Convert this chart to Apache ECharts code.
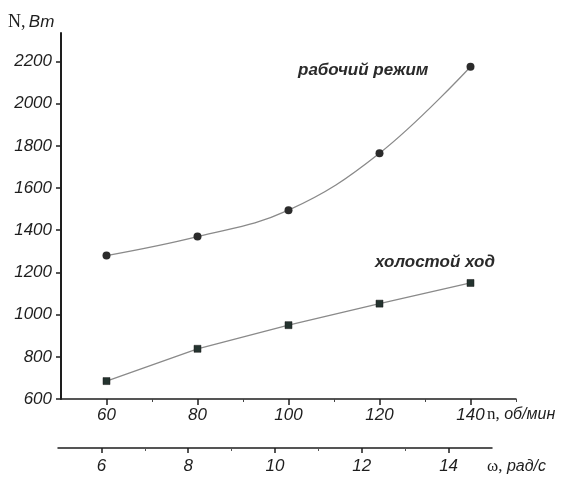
<!DOCTYPE html>
<html>
<head>
<meta charset="UTF-8">
<title>N(n)</title>
<script type="text/javascript" src="https://cdn.jsdelivr.net/npm/echarts@6/dist/echarts.min.js"></script>
</head>
<body style="margin:0;background:#fff;">
	<div id="box" style="width: 565px; height: 477px;"></div>

	<script type="text/javascript">
		// частота вращения, об/мин
		var speeds = [60, 80, 100, 120, 140];
		// мощность, Вт
		var working = [1280, 1370, 1495, 1765, 2175];
		var idle = [685, 838, 950, 1052, 1150];
		// подписи осей
		var yTicks = [600, 800, 1000, 1200, 1400, 1600, 1800, 2000, 2200];
		var nTicks = [60, 80, 100, 120, 140];
		var nMinor = [70, 90, 110, 130, 150];
		var wTicks = [6, 8, 10, 12, 14];
		var wMinor = [7, 9, 11, 13];

		var ink = '#1e1e1e';
		var lbl = {
			color : ink,
			fontFamily : 'Liberation Sans',
			fontStyle : 'italic',
			fontSize : 17,
			formatter : function(v) { return String(v); }
		};

		function pairs(xs, ys) {
			var out = [];
			for (var i = 0; i < xs.length; i++) {
				out.push([ xs[i], ys[i] ]);
			}
			return out;
		}

		var myChart = echarts.init(document.getElementById('box'));
		myChart.setOption({
			animation : false,
			backgroundColor : '#fff',
			grid : [ {
				left : 61,
				right : 49,
				top : 33,
				bottom : 78
			}, {
				left : 58,
				right : 73,
				top : 447,
				height : 1
			} ],
			xAxis : [ {
				gridIndex : 0,
				type : 'value',
				position : 'bottom',
				min : 50,
				max : 150,
				interval : 10,
				axisLine : { lineStyle : { color : ink, width : 1.5 } },
				axisTick : { customValues : nTicks, length : 6, lineStyle : { color : ink, width : 1.5 } },
				axisLabel : Object.assign({ customValues : nTicks, margin : 8 }, lbl),
				splitLine : { show : false }
			}, {
				gridIndex : 0,
				type : 'value',
				position : 'bottom',
				min : 50,
				max : 150,
				interval : 10,
				axisLine : { show : false },
				axisTick : { customValues : nMinor, length : 3, lineStyle : { color : '#444' } },
				axisLabel : { show : false },
				splitLine : { show : false }
			}, {
				gridIndex : 1,
				type : 'value',
				position : 'bottom',
				min : 5,
				max : 15,
				interval : 1,
				axisLine : { lineStyle : { color : ink, width : 1.5 } },
				axisTick : { customValues : wTicks, length : 5, lineStyle : { color : ink, width : 1.5 } },
				axisLabel : Object.assign({ customValues : wTicks, margin : 10 }, lbl),
				splitLine : { show : false }
			}, {
				gridIndex : 1,
				type : 'value',
				position : 'bottom',
				min : 5,
				max : 15,
				interval : 1,
				axisLine : { show : false },
				axisTick : { customValues : wMinor, length : 3, lineStyle : { color : '#555' } },
				axisLabel : { show : false },
				splitLine : { show : false }
			} ],
			yAxis : [ {
				gridIndex : 0,
				type : 'value',
				min : 600,
				max : 2335,
				interval : 200,
				axisLine : { show : true, lineStyle : { color : ink, width : 2 } },
				axisTick : { show : true, customValues : yTicks, length : 5, lineStyle : { color : ink, width : 1.5 } },
				axisLabel : Object.assign({ customValues : yTicks, margin : 9 }, lbl),
				splitLine : { show : false }
			}, {
				gridIndex : 1,
				type : 'value',
				show : false
			} ],
			series : [ {
				name : 'рабочий режим',
				type : 'line',
				xAxisIndex : 0,
				yAxisIndex : 0,
				smooth : 0.4,
				symbol : 'circle',
				symbolSize : 8,
				itemStyle : { color : '#2b2b2b' },
				lineStyle : { color : '#8a8a8a', width : 1.3 },
				data : pairs(speeds, working)
			}, {
				name : 'холостой ход',
				type : 'line',
				xAxisIndex : 0,
				yAxisIndex : 0,
				symbol : 'rect',
				symbolSize : 7,
				itemStyle : { color : '#24332f', borderColor : '#1a1a1a', borderWidth : 0.5 },
				lineStyle : { color : '#8a8a8a', width : 1.3 },
				data : pairs(speeds, idle)
			} ],
			graphic : [ {
				type : 'text',
				left : 8,
				top : 13,
				style : {
					text : '{a|N,} {b|Вт}',
					rich : {
						a : { fontFamily : 'Liberation Serif', fontSize : 18, fill : ink },
						b : { fontFamily : 'Liberation Sans', fontStyle : 'italic', fontSize : 17, fill : ink }
					}
				}
			}, {
				type : 'text',
				left : 487,
				top : 406,
				style : {
					text : '{a|n,}{b| об/мин}',
					rich : {
						a : { fontFamily : 'Liberation Serif', fontSize : 17, fill : ink },
						b : { fontFamily : 'Liberation Sans', fontStyle : 'italic', fontSize : 16, fill : ink }
					}
				}
			}, {
				type : 'text',
				left : 487,
				top : 458,
				style : {
					text : '{a|ω,}{b| рад/с}',
					rich : {
						a : { fontFamily : 'Liberation Serif', fontSize : 17, fill : ink },
						b : { fontFamily : 'Liberation Sans', fontStyle : 'italic', fontSize : 16, fill : ink }
					}
				}
			}, {
				type : 'text',
				left : 298,
				top : 62,
				style : {
					text : 'рабочий режим',
					fill : '#2a2a2a',
					font : 'italic bold 17px "Liberation Sans"'
				}
			}, {
				type : 'text',
				left : 375,
				top : 254,
				style : {
					text : 'холостой ход',
					fill : '#2a2a2a',
					font : 'italic bold 17px "Liberation Sans"'
				}
			} ]
		});
	</script>

</body>
</html>
